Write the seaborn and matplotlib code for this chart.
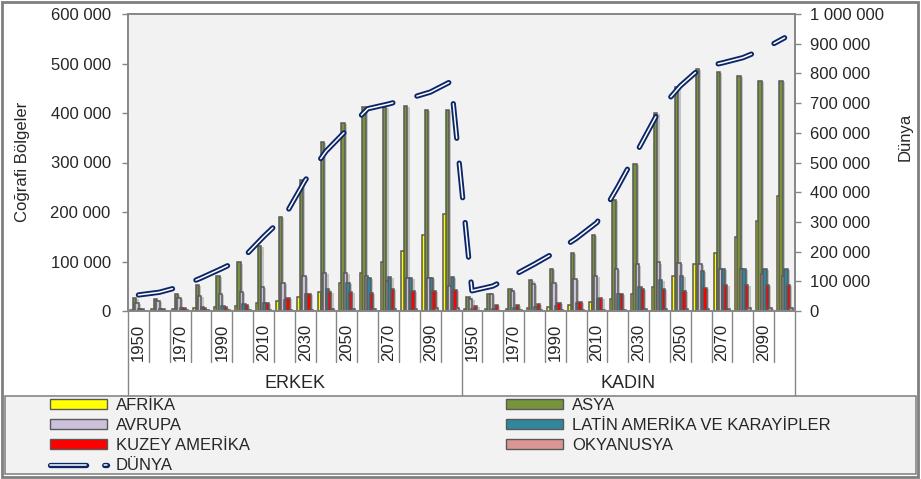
import numpy as np
import pandas as pd
import matplotlib
matplotlib.use("Agg")
import matplotlib.pyplot as plt
import matplotlib.patheffects as pe
import matplotlib.ticker as mticker
from matplotlib.patches import Patch, Rectangle
from matplotlib.lines import Line2D
from matplotlib.legend_handler import HandlerTuple
import seaborn as sns

sns.set_theme(style="white")
plt.rcParams["font.family"] = ["Liberation Sans", "DejaVu Sans"]
plt.rcParams["lines.scale_dashes"] = False

# ---- data -------------------------------------------------------------
years = [1950, 1960, 1970, 1980, 1990, 2000, 2010, 2020,
         2030, 2040, 2050, 2060, 2070, 2080, 2090, 2100]
sexes = ["ERKEK", "KADIN"]
regions = ["AFRİKA", "ASYA", "AVRUPA", "LATİN AMERİKA VE KARAYİPLER",
           "KUZEY AMERİKA", "OKYANUSYA"]

afrika_e = [3000, 3500, 4500, 6500, 7500, 10000, 15500, 20000,
            29000, 39000, 57500, 76000, 99500, 121000, 154000, 195000]
asya_e = [27000, 25000, 34000, 53000, 71000, 98000, 131000, 190000,
          264000, 342000, 380000, 413000, 413000, 415000, 406000, 406000]
avrupa_e = [15500, 20000, 26000, 30500, 34000, 39000, 48000, 57500,
            71000, 76000, 76000, 71000, 61000, 66500, 66500, 51000]
latin_e = [3500, 4500, 6000, 8000, 10000, 13500, 17000, 22000,
           34000, 44000, 56000, 66000, 68000, 67000, 67000, 68000]
kuzey_e = [4000, 5000, 5500, 6500, 9000, 12000, 16000, 26000,
           34000, 38000, 39000, 36000, 45000, 40000, 40000, 42000]
okyanusya_e = [800, 1000, 1200, 1400, 1600, 1800, 2200, 2600,
               3000, 3400, 3800, 4200, 4600, 5000, 5200, 5400]

afrika_k = [3200, 3800, 5000, 6500, 8500, 13000, 18000, 25000,
            34500, 48000, 71000, 95000, 117000, 149000, 181000, 232000]
asya_k = [29000, 34000, 44000, 62000, 85000, 116500, 154000, 224000,
          297000, 401000, 453000, 489000, 483000, 474000, 465000, 465000]
avrupa_k = [24000, 34000, 40000, 55000, 56000, 64000, 71000, 85000,
            94000, 98000, 97000, 95000, 85000, 85000, 75000, 71000]
latin_k = [3500, 4500, 6000, 8000, 11000, 17000, 24000, 35000,
           49000, 62000, 71000, 81000, 85000, 85000, 85000, 85000]
kuzey_k = [10000, 12000, 13000, 14000, 16000, 19000, 26000, 34000,
           44000, 44000, 41000, 47000, 52000, 52000, 52000, 53000]
okyanusya_k = [800, 1000, 1200, 1400, 1700, 2000, 2400, 2800,
               3200, 3600, 4000, 4400, 4800, 5200, 5600, 6000]

dunya_e = [54000, 63000, 82000, 111000, 143000, 177000, 250000, 317000,
           440000, 538000, 610000, 681000, 697000, 716000, 737000, 773000]
dunya_k = [68000, 84000, 120000, 158000, 198000, 244000, 298000, 418000,
           547000, 677000, 758000, 820000, 835000, 853000, 882000, 920000]

colors = ["#FFFF00", "#77933C", "#CCC1DA", "#31859C", "#FF0000", "#D99694"]
navy = "#0B2566"
grey = "#868686"
edge = "#595959"

# ---- long-form table --------------------------------------------------
series = {
    "ERKEK": [afrika_e, asya_e, avrupa_e, latin_e, kuzey_e, okyanusya_e],
    "KADIN": [afrika_k, asya_k, avrupa_k, latin_k, kuzey_k, okyanusya_k],
}
rows = []
for sex in sexes:
    for reg, vals in zip(regions, series[sex]):
        for yr, v in zip(years, vals):
            rows.append((f"{sex} {yr}", reg, v))
df = pd.DataFrame(rows, columns=["kategori", "bolge", "nufus"])
order = [f"{s} {y}" for s in sexes for y in years]
dunya = pd.DataFrame({"pos": np.arange(len(order)), "dunya": dunya_e + dunya_k})

# ---- figure -----------------------------------------------------------
W, H = 921, 479
fig = plt.figure(figsize=(W / 100, H / 100), dpi=100)
fig.patch.set_facecolor("white")


def fx(px):
    return px / W


def fy(py):
    return 1 - py / H


top_px, bot_px, left_px, right_px = 14, 311, 128, 795
ax = fig.add_axes([fx(left_px), fy(bot_px), fx(right_px) - fx(left_px),
                   fy(top_px) - fy(bot_px)])
ax.set_facecolor("#F2F2F2")

sns.barplot(data=df, x="kategori", y="nufus", hue="bolge", order=order,
            hue_order=regions, palette=colors, saturation=1, width=0.72,
            gap=0, errorbar=None, edgecolor=edge, linewidth=1.1,
            legend=False, ax=ax)
# slightly overlapping columns inside each cluster
for bar in ax.patches:
    w = bar.get_width()
    c = bar.get_x() + w / 2
    bar.set_width(w * 1.35)
    bar.set_x(c - w * 1.35 / 2)
    bar.set_path_effects([
        pe.SimplePatchShadow(offset=(1.6, -0.8), shadow_rgbFace="#8C8C8C",
                             alpha=0.45),
        pe.Normal()])

ax.set_xlim(-0.5, len(order) - 0.5)
ax.set_ylim(0, 600000)
ax.yaxis.set_major_locator(mticker.MultipleLocator(100000))
sp_fmt = mticker.FuncFormatter(lambda v, p: f"{int(v):,}".replace(",", " "))
ax.yaxis.set_major_formatter(sp_fmt)

xt_labels = [str(y) if i % 2 == 0 else "" for s in sexes
             for i, y in enumerate(years)]
ax.set_xticks(range(len(order)))
ax.set_xticklabels(xt_labels, rotation=90, fontsize=12)
ax.tick_params(axis="x", length=0, pad=9)
ax.tick_params(axis="y", left=True, direction="out", length=4.5, width=1,
               color=grey, pad=8, labelsize=12)

# world totals on the secondary axis
ax2 = ax.twinx()
sns.lineplot(data=dunya, x="pos", y="dunya", color=navy, linewidth=3.8,
             ax=ax2, legend=False)
outer = ax2.lines[-1]
sns.lineplot(data=dunya, x="pos", y="dunya", color="white", linewidth=1.1,
             ax=ax2, legend=False)
inner = ax2.lines[-1]
for ln in (outer, inner):
    ln.set_linestyle((0, (25, 18)))
    ln.set_dash_capstyle("round")
    ln.set_dash_joinstyle("round")
ax2.set_xlim(-0.5, len(order) - 0.5)
ax2.set_ylim(0, 1000000)
ax2.yaxis.set_major_locator(mticker.MultipleLocator(100000))
ax2.yaxis.set_major_formatter(sp_fmt)
ax2.tick_params(axis="y", right=True, direction="out", length=4.5, width=1,
                color=grey, pad=6, labelsize=12)

for a in (ax, ax2):
    a.set_xlabel("")
    a.set_ylabel("")
    for s in a.spines.values():
        s.set_color(grey)
        s.set_linewidth(1.2)

# category separators and group captions below the plot
trans = ax.get_xaxis_transform()
span = bot_px - top_px
for k in range(len(order) + 1):
    y_end = -(395 - bot_px) / span if k % 16 == 0 else -(362 - bot_px) / span
    ax.plot([k - 0.5, k - 0.5], [0, y_end], transform=trans, clip_on=False,
            color=grey, lw=1)
for i, sex in enumerate(sexes):
    ax.text(i * 16 + 7.5, -(383 - bot_px) / span, sex, transform=trans,
            ha="center", va="center", fontsize=13)

# axis titles
fig.text(fx(22), fy(162), "Coğrafi Bölgeler", rotation=90, ha="center",
         va="center", fontsize=12)
fig.text(fx(905), fy(137), "Dünya", rotation=90, ha="center",
         va="center", fontsize=12)

# legend panel and outer frame
fig.patches.append(Rectangle((fx(5), fy(474)), fx(916) - fx(5),
                             fy(396) - fy(474), transform=fig.transFigure,
                             facecolor="#F2F2F2", edgecolor=grey, lw=1.2,
                             zorder=0))
fig.patches.append(Rectangle((fx(2), fy(477)), fx(918) - fx(2),
                             fy(2) - fy(477), transform=fig.transFigure,
                             fill=False, edgecolor="#7F7F7F", lw=2,
                             zorder=5))

patches = [Patch(facecolor=c, edgecolor=edge, lw=1) for c in colors]
lg_outer = Line2D([], [], color=navy, lw=3.8, linestyle=(0, (26, 13)),
                  dash_capstyle="round")
lg_inner = Line2D([], [], color="white", lw=1.1, linestyle=(0, (26, 13)),
                  dash_capstyle="round")

common = dict(loc="upper left", frameon=False, fontsize=12,
              handlelength=3.4, handleheight=0.55, handletextpad=0.55,
              labelspacing=0.3, borderpad=0, borderaxespad=0,
              handler_map={tuple: HandlerTuple(ndivide=1)})
leg1 = fig.legend([patches[0], patches[2], patches[4], (lg_outer, lg_inner)],
                  [regions[0], regions[2], regions[4], "DÜNYA"],
                  bbox_to_anchor=(fx(50), fy(398)), **common)
leg2 = fig.legend([patches[1], patches[3], patches[5]],
                  [regions[1], regions[3], regions[5]],
                  bbox_to_anchor=(fx(506), fy(398)), **common)

fig.savefig("out.png", dpi=100)
